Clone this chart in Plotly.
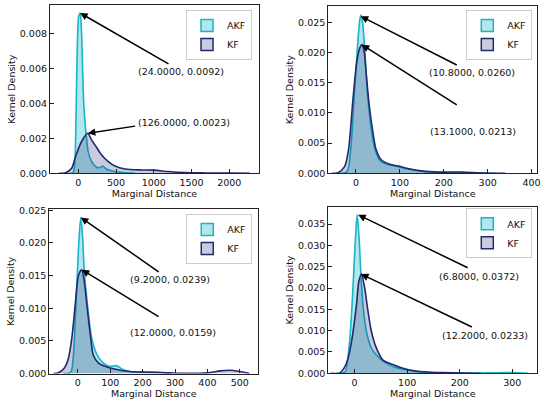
import plotly.graph_objects as go
from plotly.subplots import make_subplots

# ---- data (kde curves, 4 panels) ----
akf_x1 = [-110, -70, -50, -38, -25, -10, 5, 24, 42, 58, 72, 90, 102, 133, 177, 243, 287, 322, 375, 464, 600, 750]
akf_y1 = [0, 0.00002, 0.0004, 0.0015, 0.0046, 0.0078, 0.0090, 0.0092, 0.0082, 0.0058, 0.0040, 0.0029, 0.0023,
          0.0012, 0.00067, 0.00035, 0.00033, 0.00042, 0.00023, 0.00012, 0.00004, 0]
kf_x1 = [-260, -176, -88, -44, 22, 66, 126, 177, 221, 309, 397, 486, 618, 839, 1000, 1192, 1413, 1700, 2000, 2270]
kf_y1 = [0, 0.00002, 0.00029, 0.00086, 0.00163, 0.0020, 0.0023, 0.0019, 0.00163, 0.00105, 0.00067, 0.00042,
         0.00025, 0.00019, 0.00018, 0.0001, 0.00004, 0.00002, 0.00001, 0]

akf_x2 = [-35, -20, -12, -4.5, 3, 8, 11, 15, 20, 26, 35, 44, 56, 75, 95, 118, 150, 200, 250, 320]
akf_y2 = [0, 0.0003, 0.0039, 0.0121, 0.0204, 0.0250, 0.0262, 0.0250, 0.0204, 0.0135, 0.0072, 0.0038, 0.0020,
          0.0014, 0.0011, 0.0007, 0.00035, 0.0001, 0.00005, 0]
kf_x2 = [-55, -41, -26, -17, -7, 2, 9, 14, 19, 22, 29, 39, 46, 58, 77, 96, 118, 149, 190, 240, 290, 340]
kf_y2 = [0, 0.0001, 0.0011, 0.0039, 0.0121, 0.0185, 0.0208, 0.0213, 0.0200, 0.0177, 0.0121, 0.0066, 0.0039,
         0.0022, 0.0015, 0.0012, 0.0008, 0.0004, 0.0002, 0.0002, 0.00005, 0]

akf_x3 = [-45, -22, -13.5, -8, -1, 4, 9.3, 15, 20, 30, 43, 59, 79, 100, 120, 136, 160, 200, 250, 290]
akf_y3 = [0, 0.0002, 0.0029, 0.0080, 0.0157, 0.0208, 0.0239, 0.0208, 0.0157, 0.0105, 0.0054, 0.0029, 0.0016,
          0.0011, 0.0012, 0.0007, 0.0003, 0.0002, 0.0002, 0]
kf_x3 = [-75, -60, -42, -29, -18.5, -8, 2, 12, 22.5, 28, 40, 48, 64, 84, 120, 160, 220, 280, 330, 400, 440,
         470, 500, 530]
kf_y3 = [0, 0.0001, 0.0008, 0.0023, 0.0054, 0.0105, 0.0150, 0.0159, 0.0131, 0.0105, 0.0054, 0.0028, 0.0016,
         0.0011, 0.0006, 0.0003, 0.0002, 0.0001, 0.00002, 0.0001, 0.0004, 0.0005, 0.0003, 0]

akf_x4 = [-35, -18.6, -13.7, -9, -4.8, -1.6, 1.6, 5, 8.6, 11.8, 16, 22.5, 32, 48, 64, 79.5, 98, 120, 160, 200,
          270, 300, 330]
akf_y4 = [0, 0.0002, 0.0027, 0.0082, 0.0160, 0.0238, 0.0316, 0.0372, 0.0316, 0.0238, 0.0160, 0.0098, 0.0059,
          0.0035, 0.0021, 0.0013, 0.0008, 0.0003, 0.0001, 0.00003, 0.0001, 0.0002, 0]
kf_x4 = [-45, -28, -20, -12.4, -4.8, 3.5, 8, 13, 19.4, 23.8, 32, 41.5, 54, 76, 92, 114, 140, 170, 200, 240]
kf_y4 = [0, 0.0001, 0.0012, 0.0035, 0.0082, 0.0160, 0.0215, 0.0233, 0.0199, 0.0160, 0.0098, 0.0059, 0.0031,
         0.0019, 0.0012, 0.0006, 0.0003, 0.00015, 0.00005, 0]

# annotated peaks (AKF, KF) per panel
akf_peaks = [(24.0, 0.0092), (10.8, 0.0260), (9.2, 0.0239), (6.8, 0.0372)]
kf_peaks = [(126.0, 0.0023), (13.1, 0.0213), (12.0, 0.0159), (12.2, 0.0233)]

series_names = ["AKF", "KF"]
x_ticks = [[0, 500, 1000, 1500, 2000], [0, 100, 200, 300, 400], [0, 100, 200, 300, 400, 500], [0, 100, 200, 300]]
y_ticks = [[0, 0.002, 0.004, 0.006, 0.008], [0, 0.005, 0.010, 0.015, 0.020, 0.025],
           [0, 0.005, 0.010, 0.015, 0.020, 0.025], [0, 0.005, 0.010, 0.015, 0.020, 0.025, 0.030, 0.035]]

# ---- layout bits ----
AKF_LINE = "#17b5c8"
AKF_FILL = "rgba(23,180,200,0.33)"
KF_LINE = "#232870"
KF_FILL = "rgba(35,40,115,0.24)"
FONT = "DejaVu Sans"

x_ranges = [[-375, 2393], [-63, 413], [-88, 557], [-50, 347.5]]
y_ranges = [[0, 0.00966], [0, 0.0277], [0, 0.0252], [0, 0.0391]]
x_domains = [[0.0909, 0.4709], [0.5969, 0.9769], [0.0896, 0.4696], [0.5969, 0.9769]]
y_domains = [[0.5700, 0.9876], [0.5700, 0.9851], [0.0732, 0.4814], [0.0737, 0.4871]]
legend_pos = [(0.4582, 0.9752), (0.9678, 0.9752), (0.4587, 0.469), (0.9678, 0.4831)]
# label centres and arrow tails (data coords)
akf_text = [(1354, 0.00584), (264, 0.01672), (284, 0.01438), (237, 0.02281)]
akf_tail = [(1214, 0.00623), (233, 0.01781), (254, 0.01542), (218, 0.02461)]
kf_text = [(1397, 0.00291), (267, 0.0070), (295, 0.00634), (248, 0.00898)]
kf_tail = [(773, 0.00272), (233, 0.01119), (254, 0.00858), (226, 0.01069)]

curves = [(akf_x1, akf_y1, kf_x1, kf_y1), (akf_x2, akf_y2, kf_x2, kf_y2),
          (akf_x3, akf_y3, kf_x3, kf_y3), (akf_x4, akf_y4, kf_x4, kf_y4)]

fig = make_subplots(rows=2, cols=2)
annotations = []
for i, (ax_, ay_, kx_, ky_) in enumerate(curves):
    row, col = i // 2 + 1, i % 2 + 1
    leg = "legend" if i == 0 else f"legend{i + 1}"
    fig.add_trace(go.Scatter(x=ax_, y=ay_, mode="lines", fill="tozeroy", fillcolor=AKF_FILL,
                             line=dict(color=AKF_LINE, width=1.6, shape="spline", smoothing=0.8),
                             showlegend=False), row=row, col=col)
    fig.add_trace(go.Scatter(x=kx_, y=ky_, mode="lines", fill="tozeroy", fillcolor=KF_FILL,
                             line=dict(color=KF_LINE, width=1.6, shape="spline", smoothing=0.8),
                             showlegend=False), row=row, col=col)
    # legend patches
    for name, fc, lc in [(series_names[0], AKF_FILL, AKF_LINE), (series_names[1], KF_FILL, KF_LINE)]:
        fig.add_trace(go.Bar(x=[None], y=[None], name=name, legend=leg,
                             marker=dict(color=fc, line=dict(color=lc, width=1.5))), row=row, col=col)

    xr = "x" if i == 0 else f"x{i + 1}"
    yr = "y" if i == 0 else f"y{i + 1}"
    for peak, txt, tail in [(akf_peaks[i], akf_text[i], akf_tail[i]), (kf_peaks[i], kf_text[i], kf_tail[i])]:
        annotations.append(dict(x=peak[0], y=peak[1], ax=tail[0], ay=tail[1], xref=xr, yref=yr,
                                axref=xr, ayref=yr, text="", showarrow=True, arrowhead=2,
                                arrowsize=1, arrowwidth=1.5, arrowcolor="black"))
        annotations.append(dict(x=txt[0], y=txt[1], xref=xr, yref=yr, showarrow=False,
                                text=f"({peak[0]:.4f}, {peak[1]:.4f})",
                                font=dict(family=FONT, size=9.5, color="#111")))

    axis_n = "" if i == 0 else str(i + 1)
    fig.layout["xaxis" + axis_n].update(domain=x_domains[i], range=x_ranges[i], tickvals=x_ticks[i],
                                        title=dict(text="Marginal Distance", standoff=2))
    fig.layout["yaxis" + axis_n].update(domain=y_domains[i], range=y_ranges[i], tickvals=y_ticks[i],
                                        tickformat=".3f", title=dict(text="Kernel Density", standoff=2))
    fig.layout[leg] = dict(x=legend_pos[i][0], y=legend_pos[i][1], xanchor="right", yanchor="top",
                           bgcolor="white", bordercolor="#cccccc", borderwidth=1,
                           font=dict(family=FONT, size=9.5, color="#111"))

fig.update_xaxes(showgrid=False, zeroline=False, showline=True, mirror=True, linecolor="#222",
                 linewidth=1.2, ticks="inside", ticklen=4, tickcolor="#222", automargin=False,
                 tickfont=dict(family=FONT, size=9.5, color="#111"),
                 title_font=dict(family=FONT, size=9.5, color="#111"))
fig.update_yaxes(showgrid=False, zeroline=False, showline=True, mirror=True, linecolor="#222",
                 linewidth=1.2, ticks="inside", ticklen=4, tickcolor="#222", automargin=False,
                 tickfont=dict(family=FONT, size=9.5, color="#111"),
                 title_font=dict(family=FONT, size=9.5, color="#111"))

fig.update_layout(width=550, height=403, margin=dict(l=0, r=0, t=0, b=0),
                  paper_bgcolor="white", plot_bgcolor="white", annotations=annotations,
                  font=dict(family=FONT))

# page body has a default margin; drop it so the figure sits at the window's corner
fig.write_html("out.html", config={"displayModeBar": False},
               post_script="document.body.style.margin = '0px';")
